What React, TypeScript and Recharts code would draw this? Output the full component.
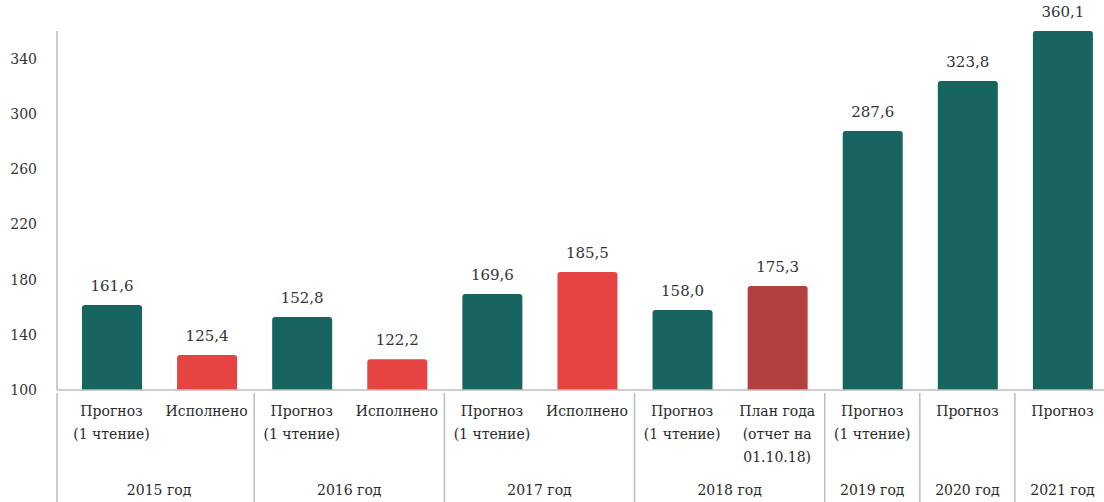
import React from "react";
import { BarChart, Bar, XAxis, YAxis, LabelList, Cell } from "recharts";

const categories: string[][] = [
  ["Прогноз", "(1 чтение)"],
  ["Исполнено"],
  ["Прогноз", "(1 чтение)"],
  ["Исполнено"],
  ["Прогноз", "(1 чтение)"],
  ["Исполнено"],
  ["Прогноз", "(1 чтение)"],
  ["План года", "(отчет на", "01.10.18)"],
  ["Прогноз", "(1 чтение)"],
  ["Прогноз"],
  ["Прогноз"],
];
const years = ["2015 год", "2015 год", "2016 год", "2016 год", "2017 год", "2017 год", "2018 год", "2018 год", "2019 год", "2020 год", "2021 год"];
const values = [161.6, 125.4, 152.8, 122.2, 169.6, 185.5, 158.0, 175.3, 287.6, 323.8, 360.1];
const kinds = ["forecast", "done", "forecast", "done", "forecast", "done", "forecast", "plan", "forecast", "forecast", "forecast"];
const yTicks = [100, 140, 180, 220, 260, 300, 340];

const COLORS: Record<string, string> = { forecast: "#176461", done: "#E54443", plan: "#B3403F" };

const data = values.map((v, i) => ({ id: String(i), value: v, year: years[i], kind: kinds[i] }));

const W = 1110;
const H = 502;
const Y_W = 57;
const PAD_L = 7;
const N = values.length;
const BAND = (W - Y_W - PAD_L) / N;
const FONT = "DejaVu Serif";
const TXT = { fontFamily: FONT };

const CatTick = (props: any) => {
  const { x, y, payload } = props;
  const lines = categories[payload.index] || [];
  return (
    <g>
      {lines.map((l, k) => (
        <text key={k} x={x} y={y + 18 + k * 23} textAnchor="middle" fontFamily={FONT} fontSize={14} fill="#2a2a2a">
          {l}
        </text>
      ))}
    </g>
  );
};

const YearTick = (props: any) => {
  const { x, y, payload } = props;
  const i = payload.index;
  if (i > 0 && years[i - 1] === years[i]) return <g />;
  let count = 1;
  while (i + count < N && years[i + count] === years[i]) count++;
  const cx = x + ((count - 1) * BAND) / 2;
  const left = x - BAND / 2 - (i === 0 ? PAD_L : 0);
  return (
    <g>
      <line x1={left} x2={left} y1={y - 75} y2={H} stroke="#bdbdbd" strokeWidth={1.5} />
      <text x={cx} y={y + 27} textAnchor="middle" fontFamily={FONT} fontSize={14} fill="#2a2a2a">
        {payload.value}
      </text>
    </g>
  );
};

export default function App() {
  return (
    <div style={{ position: "absolute", left: 0, top: 0, width: 1104, height: H, overflow: "hidden", background: "#fff" }}>
      <BarChart width={W} height={H} data={data} margin={{ top: 31, right: 0, bottom: 0, left: 0 }} barSize={60}>
        <YAxis
          domain={[100, 360]}
          ticks={yTicks}
          width={Y_W}
          axisLine={{ stroke: "#b8b8b8", strokeWidth: 1.5 }}
          tickLine={false}
          tick={{ fontSize: 14, fill: "#333", fontFamily: FONT }}
          tickMargin={14}
          allowDataOverflow
        />
        <XAxis
          dataKey="id"
          xAxisId="cat"
          height={70}
          padding={{ left: PAD_L, right: 0 }}
          axisLine={{ stroke: "#bdbdbd", strokeWidth: 1.5 }}
          tickLine={false}
          tick={<CatTick />}
          interval={0}
        />
        <XAxis
          dataKey="year"
          xAxisId="year"
          height={42}
          padding={{ left: PAD_L, right: 0 }}
          axisLine={false}
          tickLine={false}
          tick={<YearTick />}
          interval={0}
          allowDuplicatedCategory
        />
        <Bar dataKey="value" xAxisId="cat" isAnimationActive={false} radius={[3, 3, 0, 0]}>
          {data.map((d, i) => (
            <Cell key={i} fill={COLORS[d.kind]} />
          ))}
          <LabelList
            dataKey="value"
            position="top"
            offset={14}
            formatter={(v: any) => Number(v).toFixed(1).replace(".", ",")}
            fontFamily={FONT}
            fontSize={15}
            fill="#333"
          />
        </Bar>
      </BarChart>
    </div>
  );
}
